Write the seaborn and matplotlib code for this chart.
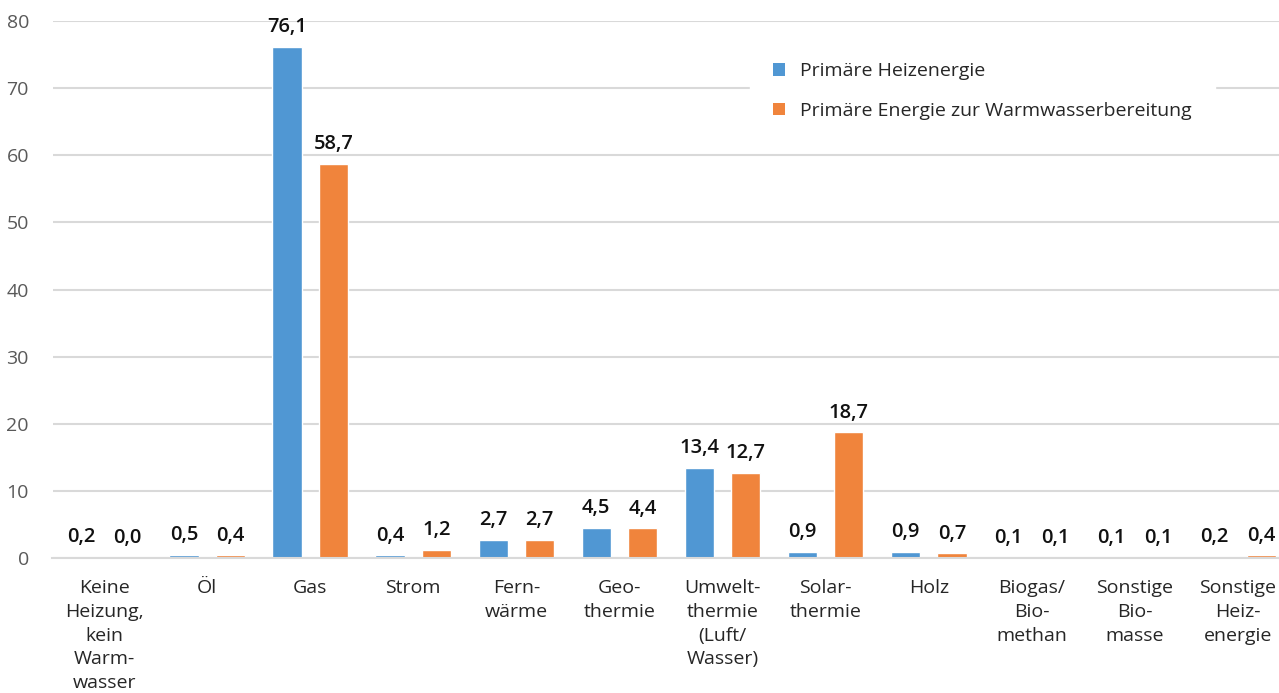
import matplotlib
matplotlib.use("Agg")
import matplotlib.pyplot as plt
import seaborn as sns
import pandas as pd
from matplotlib.patches import Patch

categories = [
    "Keine\nHeizung,\nkein\nWarm-\nwasser",
    "Öl",
    "Gas",
    "Strom",
    "Fern-\nwärme",
    "Geo-\nthermie",
    "Umwelt-\nthermie\n(Luft/\nWasser)",
    "Solar-\nthermie",
    "Holz",
    "Biogas/\nBio-\nmethan",
    "Sonstige\nBio-\nmasse",
    "Sonstige\nHeiz-\nenergie",
]
heating = [0.2, 0.5, 76.1, 0.4, 2.7, 4.5, 13.4, 0.9, 0.9, 0.1, 0.1, 0.2]
hot_water = [0.0, 0.4, 58.7, 1.2, 2.7, 4.4, 12.7, 18.7, 0.7, 0.1, 0.1, 0.4]
series_names = ["Primäre Heizenergie", "Primäre Energie zur Warmwasserbereitung"]
y_ticks = [0, 10, 20, 30, 40, 50, 60, 70, 80]

colors = ["#5097D3", "#F0843C"]

df = pd.DataFrame({
    "Kategorie": categories * 2,
    "Wert": heating + hot_water,
    "Reihe": [series_names[0]] * len(categories) + [series_names[1]] * len(categories),
})

sns.set_theme(style="white")
plt.rcParams["font.family"] = ["Open Sans", "DejaVu Sans"]

W, H = 1279, 693
fig = plt.figure(figsize=(W / 100, H / 100), dpi=100)
# plot area: 12 slots of ~103 px each, the last one running slightly past the edge
ax = fig.add_axes([52.5 / W, 1 - 558 / H, 1237 / W, (558 - 21) / H])

sns.barplot(
    data=df, x="Kategorie", y="Wert", hue="Reihe", order=categories,
    hue_order=series_names, palette=colors, width=0.9, gap=0.37,
    saturation=1, ax=ax, legend=False, errorbar=None,
)

for container, values in zip(ax.containers, [heating, hot_water]):
    ax.bar_label(
        container,
        labels=[f"{v:.1f}".replace(".", ",") for v in values],
        padding=7, fontsize=14.5, fontweight="semibold", color="#111111",
        clip_on=False,
    )

ax.set_ylim(0, 80)
ax.set_xlim(-0.5, len(categories) - 0.5)
ax.set_yticks(y_ticks)
ax.set_yticklabels([str(t) for t in y_ticks])
ax.yaxis.grid(True, color="#D9D9D9", linewidth=1.5)
ax.set_axisbelow(True)
for side in ["top", "right", "left"]:
    ax.spines[side].set_visible(False)
ax.spines["bottom"].set_color("#D9D9D9")
ax.spines["bottom"].set_linewidth(1.5)
ax.tick_params(axis="y", length=0, pad=17, labelsize=14, labelcolor="#595959")
ax.tick_params(axis="x", length=0, pad=15, labelsize=14, labelcolor="#262626")
for lbl in ax.get_xticklabels():
    lbl.set_linespacing(1.42)
ax.set_xlabel("")
ax.set_ylabel("")

handles = [Patch(facecolor=c, edgecolor="none") for c in colors]
leg = fig.legend(
    handles, series_names, loc="upper left",
    bbox_to_anchor=(750 / W, 1 - 39 / H),
    frameon=True, fancybox=False, framealpha=1, edgecolor="white",
    fontsize=14, handlelength=0.6, handleheight=0.6, handletextpad=0.75,
    labelspacing=1.1, borderpad=1.2, borderaxespad=0, labelcolor="#262626",
)

fig.savefig("out.png", dpi=100)
